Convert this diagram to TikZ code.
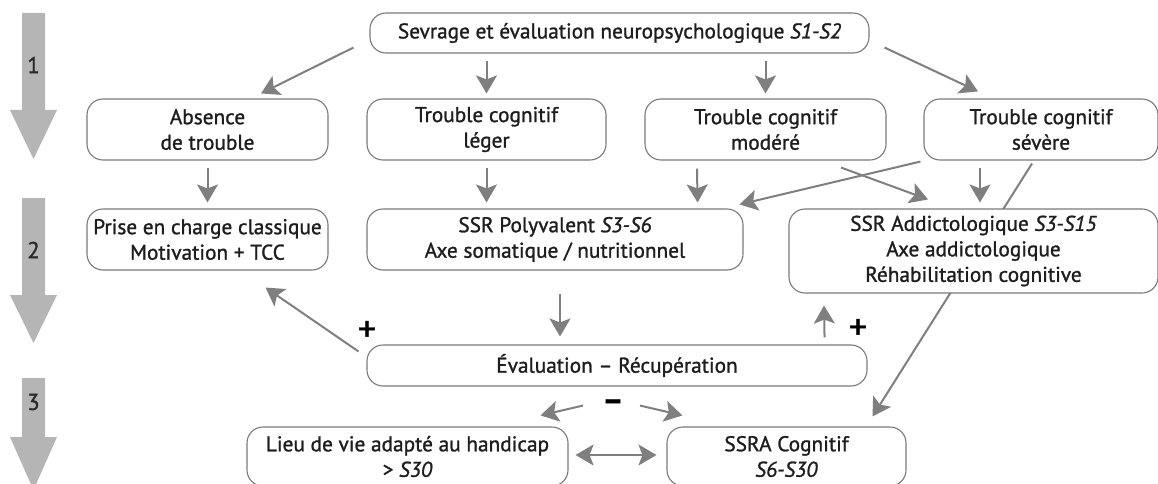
\documentclass[tikz,border=0pt]{standalone}
\usepackage{fontspec}
\setmainfont{PT Sans}[FakeBold=1.2]
\usetikzlibrary{arrows.meta,backgrounds,calc}
\definecolor{arrg}{HTML}{7F7F7F}
\definecolor{bigg}{HTML}{B5B5B5}
\definecolor{boxg}{HTML}{7A7A7A}
\definecolor{txt}{HTML}{1E1E1E}
\definecolor{numc}{HTML}{2A2A2A}
\newcommand\bigarr[3]{\fill[bigg] (22,#1) -- (45,#1) -- (45,#2) -- (57,#2) -- (33.5,#3) -- (10,#2) -- (22,#2) -- cycle;}
\begin{document}
\begin{tikzpicture}[x=1pt,y=-1pt,
  box/.style={draw=boxg,line width=1.1pt,rounded corners=16pt,fill=white,text=txt,align=center,inner sep=0pt,font=\fontsize{21.3}{25.5}\selectfont},
  arr/.style={draw=arrg,line width=2pt,-{Stealth[length=18pt,width=21pt,inset=4pt]}},
  darr/.style={draw=arrg,line width=2pt,{Stealth[length=18pt,width=21pt,inset=4pt]}-{Stealth[length=18pt,width=21pt,inset=4pt]}},
  num/.style={text=numc,font=\fontsize{23}{23}\selectfont},
  sign/.style={text=black,font=\fontsize{36}{36}\selectfont},
  bsign/.style={text=black,font=\fontsize{32}{32}\selectfont\bfseries}]
\useasboundingbox (0,0) rectangle (1158,484);
% big step arrows
\bigarr{13}{110}{159}
\bigarr{198}{295}{343}
\bigarr{378}{437}{490}
\node[num] (n1) at (33.5,65) {1};
\node[num] (n2) at (33.5,250) {2};
\node[num] (n3) at (33.5,402) {3};
% nodes
\node[box,minimum width=499pt,minimum height=40pt] (sev) at (619.5,33) {Sevrage et évaluation neuropsychologique \textit{S1-S2}};
\node[box,minimum width=241pt,minimum height=61pt] (abs) at (207.5,129.5) {Absence\\de trouble};
\node[box,minimum width=239pt,minimum height=61pt] (leg) at (486.5,129.5) {Trouble cognitif\\léger};
\node[box,minimum width=241pt,minimum height=61pt] (mod) at (765.5,129.5) {Trouble cognitif\\modéré};
\node[box,minimum width=234pt,minimum height=61pt] (sevv) at (1041,129.5) {Trouble cognitif\\sévère};
\node[box,minimum width=241pt,minimum height=61pt] (prise) at (207.5,239.5) {Prise en charge classique\\Motivation + TCC};
\node[box,minimum width=376pt,minimum height=61pt] (poly) at (555,239.5) {SSR Polyvalent \textit{S3-S6}\\Axe somatique / nutritionnel};
\node[box,minimum width=369pt,minimum height=84pt] (addi) at (973.5,251) {SSR Addictologique \textit{S3-S15}\\Axe addictologique\\Réhabilitation cognitive};
\node[box,minimum width=500pt,minimum height=41pt] (eval) at (617,365.5) {Évaluation – Récupération};
\node[box,minimum width=321pt,minimum height=59pt] (lieu) at (407.5,456.5) {Lieu de vie adapté au handicap\\> \textit{S30}};
\node[box,minimum width=239pt,minimum height=59pt] (ssra) at (786.5,456.5) {SSRA Cognitif\\\textit{S6-S30}};
% long connector behind the SSR Addictologique box
\begin{scope}[on background layer]
\draw[arr] ([shift={(-9,3)}]sevv.south) -- ([shift={(86,-10)}]ssra.north);
\end{scope}
% connectors
\draw[arr] ([shift={(-16,-6)}]sev.south west) -- ([shift={(53.5,-5)}]abs.north);
\draw[arr] ([shift={(0,7)}]sev.south -| leg.north) -- ([shift={(0,-5)}]leg.north);
\draw[arr] ([shift={(0,7)}]sev.south -| mod.north) -- ([shift={(0,-5)}]mod.north);
\draw[arr] ([shift={(15,-6)}]sev.south east) -- ([shift={(-63,-7)}]sevv.north);
\draw[arr] ([shift={(0,7)}]abs.south) -- ([shift={(0,-6)}]prise.north);
\draw[arr] ([shift={(0,7)}]leg.south) -- ([shift={(0,-6)}]leg.south |- poly.north);
\draw[arr] ([shift={(-68.5,8)}]mod.south) -- ([shift={(-46,-6)}]poly.north east);
\draw[arr] ([shift={(-3,1)}]sevv.south west) -- ([shift={(-4,-4)}]poly.north east);
\draw[arr] ([shift={(75.5,7)}]mod.south) -- ([shift={(-45.5,-9)}]addi.north);
\draw[arr] ([shift={(-61,7)}]sevv.south) -- ([shift={(6.5,-6)}]addi.north);
\draw[arr] ([shift={(5,23)}]poly.south) -- ([shift={(5,-8)}]poly.south |- eval.north);
\draw[arr] ([shift={(-8,7)}]eval.north west) -- ([shift={(-63,17)}]prise.south east);
\draw[arr] ([shift={(-43,-7)}]eval.north east) -- ([shift={(-149.5,12)}]addi.south);
\draw[arr] ([shift={(-34,19)}]eval.south) -- ([shift={(-28,-11)}]lieu.north east);
\draw[arr] ([shift={(23,19)}]eval.south) -- ([shift={(16,-11)}]ssra.north west);
\draw[darr] ([shift={(7,-1.5)}]lieu.east) -- ([shift={(-10,-1.5)}]ssra.west);
% signs
\node[sign] (plusL) at (367,331) {+};
\node[sign] (plusR) at (858,329) {+};
\node[bsign] (minus) at (613,405) {–};
\end{tikzpicture}
\end{document}
